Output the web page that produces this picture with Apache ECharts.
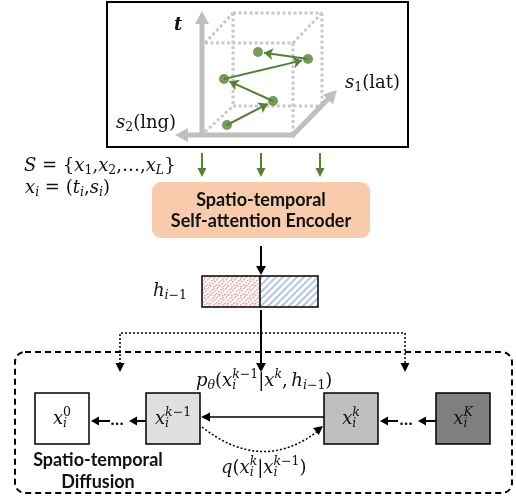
<!DOCTYPE html>
<html>
<head>
<meta charset="utf-8">
<script src="https://cdn.jsdelivr.net/npm/echarts@6/dist/echarts.min.js"></script>
<style>
html, body { margin: 0; padding: 0; background: #fff; }
#chart { width: 516px; height: 498px; }
</style>
</head>
<body>
<div id="chart"></div>
<script>
// 轨迹点 (s, t)，立方体坐标系内
var trajS = [25, 71, 22, 106, 56];
var trajT = [10, 34, 56, 76, 83];

// 文字
var encoderLines = ['Spatio-temporal', 'Self-attention Encoder'];
var diffusionLines = ['Spatio-temporal', 'Diffusion'];
var stepLabels = [
    '{i|x}{sb0|i}{spr|0}',
    '{i|x}{sb0|i}{sp|k}{spr|−1}',
    '{i|x}{sb0|i}{sp|k}',
    '{i|x}{sb0|i}{sp|K}'
];
var stepFills = ['#FFFFFF', '#DFE1DF', '#BFBFBF', '#808080'];

var MF = '"DejaVu Serif"';
var SF = 'Lato';
var GREEN = '#548235';
var GRAY = '#BFBFBF';

function rs(extra) {
    var o = { fontFamily: MF, fontSize: 18, fill: '#111', align: 'left' };
    for (var k in extra) o[k] = extra[k];
    return o;
}
var rich = {
    i: rs({ fontStyle: 'italic' }),
    r: rs({}),
    b: rs({ fontStyle: 'italic', fontWeight: 'bold', fontSize: 18 }),
    sb: rs({ fontStyle: 'italic', fontSize: 12.5, padding: [10, 0, 0, 0] }),
    sbr: rs({ fontSize: 12.5, padding: [10, 0, 0, 0] }),
    sb0: rs({ fontStyle: 'italic', fontSize: 12.5, padding: [10, 0, 0, 0], width: 0.01 }),
    sp: rs({ fontStyle: 'italic', fontSize: 12.5, padding: [0, 0, 12, 0] }),
    spr: rs({ fontSize: 12.5, padding: [0, 0, 12, 0] })
};

function mtext(x, y, str, align) {
    return {
        type: 'text', x: x, y: y, z: 10,
        style: {
            text: str, rich: rich, fontFamily: MF, fontSize: 18, fill: '#111',
            align: align || 'left', verticalAlign: 'middle'
        }
    };
}
function stext(x, y, str) {
    return {
        type: 'text', x: x, y: y, z: 10,
        style: {
            text: str, fontFamily: SF, fontWeight: 'bold', fontSize: 18, fill: '#111',
            align: 'center', verticalAlign: 'middle'
        }
    };
}

// 带箭头的直线
function arrow(x1, y1, x2, y2, opt) {
    opt = opt || {};
    var color = opt.color || '#000', lw = opt.lw || 1.5, hl = opt.hl || 8, hw = opt.hw || 4;
    var ang = Math.atan2(y2 - y1, x2 - x1);
    var bx = x2 - hl * Math.cos(ang), by = y2 - hl * Math.sin(ang);
    var px = -Math.sin(ang) * hw, py = Math.cos(ang) * hw;
    return [
        { type: 'line', z: opt.z || 5, shape: { x1: x1, y1: y1, x2: bx + Math.cos(ang), y2: by + Math.sin(ang) },
          style: { stroke: color, lineWidth: lw, lineDash: opt.dash || null } },
        { type: 'polygon', z: opt.z || 5, shape: { points: [[x2, y2], [bx + px, by + py], [bx - px, by - py]] },
          style: { fill: color } }
    ];
}
function head(x2, y2, ang, hl, hw, color) {
    var bx = x2 - hl * Math.cos(ang), by = y2 - hl * Math.sin(ang);
    var px = -Math.sin(ang) * hw, py = Math.cos(ang) * hw;
    return { type: 'polygon', z: 5, shape: { points: [[x2, y2], [bx + px, by + py], [bx - px, by - py]] },
             style: { fill: color || '#000' } };
}
function dotted(x1, y1, x2, y2) {
    return { type: 'line', z: 1, shape: { x1: x1, y1: y1, x2: x2, y2: y2 },
             style: { stroke: '#C9C9C9', lineWidth: 3, lineDash: [3, 2.5] } };
}

// 填充纹理
function dotCanvas() {
    var c = document.createElement('canvas'); c.width = 9; c.height = 9;
    var g = c.getContext('2d');
    g.fillStyle = '#fff'; g.fillRect(0, 0, 9, 9);
    g.fillStyle = '#EFAAAA';
    [[0, 0], [4, 1], [7, 2], [2, 3], [5, 4], [0, 5], [8, 6], [3, 6], [6, 7], [1, 8], [6, 0], [2, 6]].forEach(function (p) {
        g.fillRect(p[0], p[1], 1.6, 1.6);
    });
    return c;
}
function hatchCanvas() {
    var c = document.createElement('canvas'); c.width = 7; c.height = 7;
    var g = c.getContext('2d');
    g.fillStyle = '#fff'; g.fillRect(0, 0, 7, 7);
    g.strokeStyle = '#B4C7E7'; g.lineWidth = 2;
    g.beginPath();
    g.moveTo(-1, 8); g.lineTo(8, -1);
    g.moveTo(-1, 1); g.lineTo(1, -1);
    g.moveTo(6, 8); g.lineTo(8, 6);
    g.stroke();
    return c;
}

var els = [];

// 上方轨迹框
els.push({ type: 'rect', z: 0, shape: { x: 107, y: 2, width: 301, height: 145 },
           style: { fill: 'none', stroke: '#000', lineWidth: 2 } });
// 虚线立方体
els.push(dotted(205, 43, 293, 43), dotted(293, 43, 293, 133),
         dotted(233, 13, 322, 13), dotted(233, 13, 233, 106), dotted(233, 106, 322, 106), dotted(322, 13, 322, 104),
         dotted(205, 43, 233, 13), dotted(293, 43, 322, 13), dotted(205, 132, 233, 106));
// 灰色坐标轴
els = els.concat(arrow(202, 137, 202, 11, { color: GRAY, lw: 5, hl: 13, hw: 7, z: 2 }));
els = els.concat(arrow(295, 135, 175, 135, { color: GRAY, lw: 5, hl: 13, hw: 7, z: 2 }));
els = els.concat(arrow(292, 136, 337, 90, { color: GRAY, lw: 5, hl: 13, hw: 7, z: 2 }));
els.push(mtext(174, 25, '{b|t}'));
els.push(mtext(345, 83, '{i|s}{sbr|1}{r|(lat)}'));
els.push(mtext(116, 123, '{i|s}{sbr|2}{r|(lng)}'));

// 公式
els.push(mtext(24, 166, '{i|S}{r| = }{r|{}{i|x}{sbr|1}{r|,}{i|x}{sbr|2}{r|,…,}{i|x}{sb|L}}'));
els.push(mtext(25, 188, '{i|x}{sb|i}{r| = (}{i|t}{sb|i}{r|,}{i|s}{sb|i}{r|)}'));

// 绿色箭头
[202, 261, 320].forEach(function (x) {
    els = els.concat(arrow(x, 153, x, 177, { color: GREEN, lw: 2, hl: 9, hw: 4.5 }));
});

// 编码器
els.push({ type: 'rect', z: 0, shape: { x: 152, y: 182, width: 218, height: 56, r: 9 },
           style: { fill: '#F8CBAD' } });
els.push(stext(261, 200, encoderLines[0]));
els.push(stext(261, 221, encoderLines[1]));
els = els.concat(arrow(261, 246, 261, 275, { lw: 2, hl: 9, hw: 5 }));

// h_{i-1}
els.push({ type: 'rect', z: 1, shape: { x: 202, y: 276, width: 58, height: 31 },
           style: { fill: { image: dotCanvas(), repeat: 'repeat' } } });
els.push({ type: 'rect', z: 1, shape: { x: 260, y: 276, width: 58, height: 31 },
           style: { fill: { image: hatchCanvas(), repeat: 'repeat' } } });
els.push({ type: 'rect', z: 2, shape: { x: 202, y: 276, width: 116, height: 31 },
           style: { fill: 'none', stroke: '#000', lineWidth: 1.5 } });
els.push({ type: 'line', z: 2, shape: { x1: 260, y1: 276, x2: 260, y2: 307 }, style: { stroke: '#000', lineWidth: 1.5 } });
els.push(mtext(153, 291, '{i|h}{sb|i}{sbr|−1}'));

// 向下连接
els = els.concat(arrow(261, 310, 261, 372, { lw: 2, hl: 9, hw: 5 }));
els.push({ type: 'polyline', z: 4, shape: { points: [[120, 364], [120, 333], [405, 333], [405, 364]] },
           style: { stroke: '#000', lineWidth: 1.5, lineDash: [2, 2], fill: 'none' } });
els.push(head(120, 372, Math.PI / 2, 9, 4.5), head(405, 372, Math.PI / 2, 9, 4.5));

// 扩散虚线框
els.push({ type: 'rect', z: 0, shape: { x: 15, y: 352, width: 497, height: 141, r: 10 },
           style: { fill: 'none', stroke: '#000', lineWidth: 2, lineDash: [6, 4] } });

// 扩散步骤方框
var boxX = [35, 146, 324, 436];
boxX.forEach(function (x, i) {
    els.push({ type: 'rect', z: 3, shape: { x: x, y: 393, width: 54, height: 51 },
               style: { fill: stepFills[i], stroke: '#000', lineWidth: 1.5 } });
    els.push(mtext(x + 27, 419, stepLabels[i], 'center'));
});

// 步骤间箭头
els = els.concat(arrow(110, 421, 91, 421, { lw: 2, hl: 8, hw: 4.5 }));
els = els.concat(arrow(146, 421, 129, 421, { lw: 2, hl: 8, hw: 4.5 }));
els = els.concat(arrow(324, 417, 201, 417, { lw: 1.5, hl: 9, hw: 4.5 }));
els = els.concat(arrow(398, 421, 380, 421, { lw: 2, hl: 8, hw: 4.5 }));
els = els.concat(arrow(436, 421, 418, 421, { lw: 2, hl: 8, hw: 4.5 }));
[117, 406].forEach(function (x) {
    els.push({ type: 'text', x: x, y: 420, z: 10,
               style: { text: '…', fontFamily: SF, fontWeight: 'bold', fontSize: 17, fill: '#111',
                        align: 'center', verticalAlign: 'middle' } });
});

// 前向加噪虚线弧
els.push({ type: 'bezierCurve', z: 4, shape: { x1: 202, y1: 427, cpx1: 262, cpy1: 474, x2: 318, y2: 431 },
           style: { stroke: '#000', lineWidth: 1.5, lineDash: [2, 2], fill: 'none' } });
els.push(head(323, 426, Math.atan2(426 - 474, 323 - 262), 9, 4.5));

els.push(mtext(196, 381, '{i|p}{sb|θ}{r|(}{i|x}{sb0|i}{sp|k}{spr|−1}{r||}{i|x}{sp|k}{r|,\u2009}{i|h}{sb|i}{sbr|−1}{r|)}'));
els.push(mtext(221, 468, '{i|q}{r|(}{i|x}{sb0|i}{sp|k}{r||}{i|x}{sb0|i}{sp|k}{spr|−1}{r|)}'));
els.push(stext(98, 460, diffusionLines[0]));
els.push(stext(98, 482, diffusionLines[1]));

// 轨迹线段（末端略缩短）
var trajPts = trajS.map(function (s, i) { return [s, trajT[i]]; });
var segs = [];
for (var i = 0; i < trajPts.length - 1; i++) {
    var a = trajPts[i], b = trajPts[i + 1];
    var dx = b[0] - a[0], dy = b[1] - a[1], len = Math.sqrt(dx * dx + dy * dy);
    segs.push({ coords: [a, [b[0] - dx / len * 6, b[1] - dy / len * 6]] });
}

var chart = echarts.init(document.getElementById('chart'));
chart.setOption({
    animation: false,
    grid: { left: 202, top: 13, width: 120, height: 122 },
    xAxis: { type: 'value', min: 0, max: 120, show: false },
    yAxis: { type: 'value', min: 0, max: 122, show: false },
    graphic: { elements: els },
    series: [
        {
            type: 'lines', coordinateSystem: 'cartesian2d', z: 5,
            symbol: ['none', 'arrow'], symbolSize: 9,
            lineStyle: { color: GREEN, width: 2, opacity: 1 },
            data: segs
        },
        {
            type: 'scatter', z: 6, symbolSize: 10,
            itemStyle: { color: GREEN },
            data: trajPts
        }
    ]
});
</script>
</body>
</html>
